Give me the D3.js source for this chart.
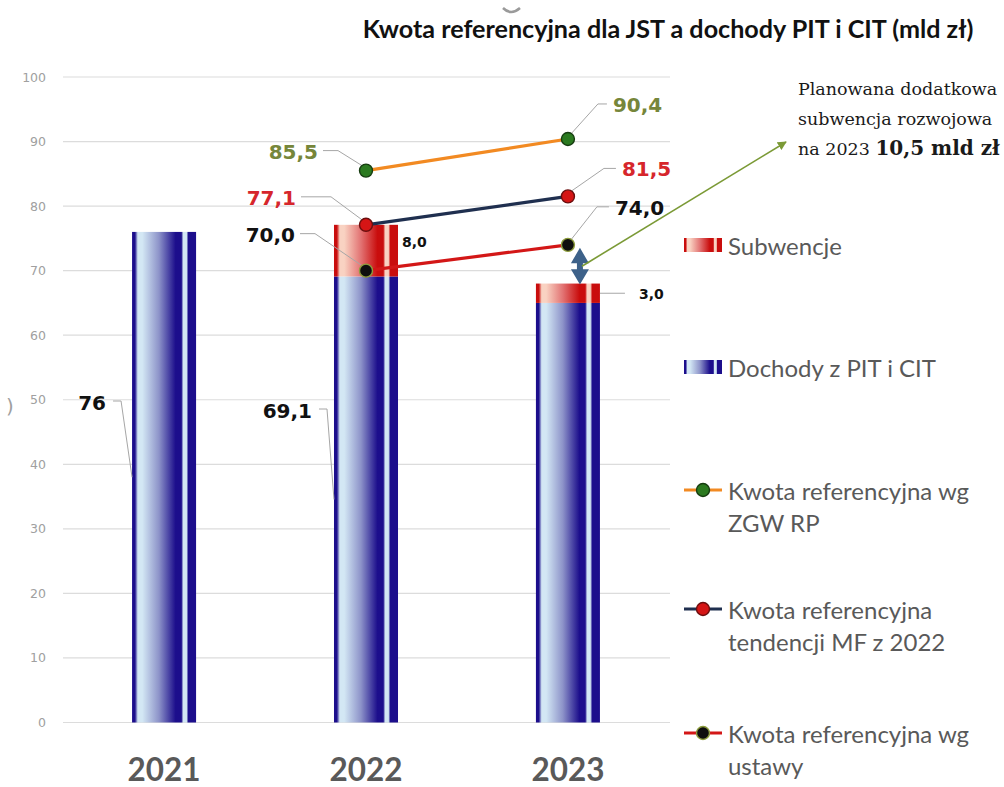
<!DOCTYPE html>
<html>
<head>
<meta charset="utf-8">
<script src="https://cdn.jsdelivr.net/npm/d3@7"></script>
<style>
  body { margin: 0; background: #fff; }
  svg { display: block; }
</style>
</head>
<body>
<svg id="chart" width="1004" height="787"></svg>
<script>
// Data (mld zł)
const years = ['2021', '2022', '2023'];
const dochody = [76, 69.1, 65.0];
const subwencje = [0, 8.0, 3.0];
const kwotaZgw = [null, 85.5, 90.4];
const kwotaMf = [null, 77.1, 81.5];
const kwotaUstawa = [null, 70.0, 74.0];
const yTicks = [0, 10, 20, 30, 40, 50, 60, 70, 80, 90, 100];
const dochodyLabels = ['76', '69,1', null];
const subwencjeLabels = [null, '8,0', '3,0'];

const title = 'Kwota referencyjna dla JST a dochody PIT i CIT (mld zł)';
const legendBars = ['Subwencje', 'Dochody z PIT i CIT'];
const legendLines = [
  ['Kwota referencyjna wg', 'ZGW RP'],
  ['Kwota referencyjna', 'tendencji MF z 2022'],
  ['Kwota referencyjna wg', 'ustawy']
];
const note = ['Planowana dodatkowa', 'subwencja rozwojowa', 'na 2023 '];
const noteBold = '10,5 mld zł';

const fmt = v => d3.format('.1f')(v).replace('.', ',');

const svg = d3.select('#chart');
const defs = svg.append('defs');

const x = d3.scaleBand().domain(years).range([63, 669]).paddingInner(0.683).paddingOuter(0.342);
const y = d3.scaleLinear().domain([0, 100]).range([722.5, 77]);
const cx = yr => x(yr) + x.bandwidth() / 2;

// gradients that mimic the glossy excel bars
function barGradient(id, dark, light, mid) {
  const g = defs.append('linearGradient').attr('id', id).attr('x1', 0).attr('x2', 1).attr('y1', 0).attr('y2', 0);
  [[0, dark], [0.045, dark], [0.09, light], [0.16, light], [0.42, mid], [0.68, dark], [0.77, dark],
   [0.8, light], [0.85, light], [0.88, dark], [1, dark]]
    .forEach(([o, c]) => g.append('stop').attr('offset', o).attr('stop-color', c));
}
barGradient('gBlue', '#1c0e8c', '#d3e7f4', '#8d93c9');
barGradient('gRed', '#c90d0d', '#f9d2c2', '#e27373');

// grid + y ticks
svg.append('g').selectAll('line').data(yTicks).join('line')
  .attr('x1', 63).attr('x2', 670)
  .attr('y1', d => y(d)).attr('y2', d => y(d))
  .attr('stroke', '#dcdcdc').attr('stroke-width', 1.2);

svg.append('g').selectAll('text').data(yTicks).join('text')
  .attr('x', 46).attr('y', d => y(d))
  .attr('text-anchor', 'end').attr('dominant-baseline', 'central')
  .attr('font-family', 'DejaVu Sans').attr('font-size', 12.5).attr('fill', '#a0a0a0')
  .text(d => d);

// year labels
const yearText = svg.append('g').selectAll('text').data(years).join('text')
  .attr('x', d => cx(d)).attr('y', 769)
  .attr('text-anchor', 'middle').attr('dominant-baseline', 'central')
  .attr('font-family', 'Lato').attr('font-weight', 'bold').attr('font-size', 32)
  .attr('fill', '#595959')
  .text(d => d);

// bars
const bars = svg.append('g');
bars.selectAll('rect.doch').data(years).join('rect').attr('class', 'doch')
  .attr('x', d => x(d)).attr('width', x.bandwidth())
  .attr('y', (d, i) => y(dochody[i])).attr('height', (d, i) => y(0) - y(dochody[i]))
  .attr('fill', 'url(#gBlue)');
bars.selectAll('rect.sub').data(years).join('rect').attr('class', 'sub')
  .attr('x', d => x(d)).attr('width', x.bandwidth())
  .attr('y', (d, i) => y(dochody[i] + subwencje[i]))
  .attr('height', (d, i) => y(dochody[i]) - y(dochody[i] + subwencje[i]))
  .attr('fill', 'url(#gRed)');

const leader = svg.append('g').attr('fill', 'none').attr('stroke', '#a6a6a6').attr('stroke-width', 1);
const labelFont = sel => sel.attr('font-family', 'DejaVu Sans').attr('font-weight', 'bold');

// bar value labels (dochody): placed left of bar with an elbow leader to the bar middle
const dochOffsets = [{ dx: -26, dy: 403 }, { dx: -22, dy: 411 }];
dochodyLabels.forEach((lab, i) => {
  if (!lab) return;
  const o = dochOffsets[i];
  const bx = x(years[i]);
  const lx = bx + o.dx;
  labelFont(svg.append('text')).attr('x', lx).attr('y', o.dy)
    .attr('text-anchor', 'end').attr('dominant-baseline', 'central')
    .attr('font-size', 20).attr('fill', '#111').text(lab);
  leader.append('path').attr('d', d3.line()([[lx + 7, o.dy - 2], [lx + 15, o.dy - 2], [bx, y(dochody[i] / 2)]]));
});

// subwencje labels, right of the bar
subwencjeLabels.forEach((lab, i) => {
  if (!lab) return;
  const bx = x(years[i]) + x.bandwidth();
  const ly = y(dochody[i] + subwencje[i] / 2);
  const t = labelFont(svg.append('text'))
    .attr('y', i === 1 ? ly - 9 : ly + 1)
    .attr('dominant-baseline', 'central').attr('font-size', 14).attr('fill', '#111').text(lab);
  if (i === 1) t.attr('x', bx + 4);
  else {
    t.attr('x', bx + 39);
    leader.append('path').attr('d', d3.line()([[bx, ly], [bx + 25, ly]]));
  }
});

// line series
const series = [
  { vals: kwotaZgw, line: '#f28a22', fill: '#2b7a20', edge: '#163c10', label: '#76863a',
    offs: [null, { dx: -48, dy: -19, h: 15 }, { dx: 45, dy: -34, h: 9 }] },
  { vals: kwotaMf, line: '#1f2f4f', fill: '#d51515', edge: '#6b0e0e', label: '#d6262c',
    offs: [null, { dx: -70, dy: -27, h: 30 }, { dx: 54, dy: -27, h: 12 }] },
  { vals: kwotaUstawa, line: '#d31717', fill: '#0e0e0e', edge: '#8c9c3c', label: '#111',
    offs: [null, { dx: -71, dy: -36, h: 15 }, { dx: 47, dy: -37, h: 12 }] }
];

const lineGen = d3.line().defined(d => d[1] != null).x(d => cx(d[0])).y(d => y(d[1]));

// double arrow between 2023 kwota (ustawa) and the 2023 bar top
const arrX = cx(years[2]) + 12;
const aTop = y(kwotaUstawa[2]) + 3;
const aBot = y(dochody[2] + subwencje[2]) + 1;
const aMid = (aTop + aBot) / 2;

series.forEach(s => {
  svg.append('path').datum(years.map((yr, i) => [yr, s.vals[i]]))
    .attr('d', lineGen).attr('fill', 'none')
    .attr('stroke', s.line).attr('stroke-width', 3.2);
});

svg.append('path')
  .attr('d', `M${arrX},${aTop} L${arrX + 9},${aMid - 3} L${arrX + 3},${aMid - 3} L${arrX + 3},${aMid + 3}
    L${arrX + 9},${aMid + 3} L${arrX},${aBot} L${arrX - 9},${aMid + 3} L${arrX - 3},${aMid + 3}
    L${arrX - 3},${aMid - 3} L${arrX - 9},${aMid - 3} Z`)
  .attr('fill', '#3d6189');

series.forEach(s => {
  years.forEach((yr, i) => {
    const v = s.vals[i];
    if (v == null) return;
    const px = cx(yr), py = y(v);
    const o = s.offs[i];
    const lx = px + o.dx, ly = py + o.dy;
    const left = o.dx < 0;
    const sx = left ? lx + 5 : lx - 6;
    leader.append('path').attr('d', d3.line()([
      [sx, ly - 1], [left ? sx + o.h : sx - o.h, ly - 1], [left ? px - 4 : px + 3, py - 5]
    ]));
    labelFont(svg.append('text')).attr('x', lx).attr('y', ly)
      .attr('text-anchor', left ? 'end' : 'start').attr('dominant-baseline', 'central')
      .attr('font-size', 20).attr('fill', s.label).text(fmt(v));
  });
});

// markers on top of lines and leaders
series.forEach(s => {
  svg.append('g').selectAll('circle').data(years.filter((yr, i) => s.vals[i] != null)).join('circle')
    .attr('cx', d => cx(d)).attr('cy', d => y(s.vals[years.indexOf(d)])).attr('r', 6.5)
    .attr('fill', s.fill).attr('stroke', s.edge).attr('stroke-width', 1.4);
});

// green pointer to the note
defs.append('marker').attr('id', 'head').attr('viewBox', '0 0 10 10')
  .attr('refX', 9).attr('refY', 5).attr('markerWidth', 9).attr('markerHeight', 9)
  .attr('orient', 'auto').attr('markerUnits', 'userSpaceOnUse')
  .append('path').attr('d', 'M0,0 L10,5 L0,10 Z').attr('fill', '#7b9a36');
svg.append('line').attr('x1', arrX + 2).attr('y1', aMid)
  .attr('x2', 786).attr('y2', 142)
  .attr('stroke', '#7b9a36').attr('stroke-width', 1.6).attr('marker-end', 'url(#head)');

// note text (cut by the right edge, like the screenshot)
const noteG = svg.append('g').attr('font-family', 'DejaVu Serif').attr('fill', '#1a1a1a');
note.forEach((t, i) => {
  const tx = noteG.append('text').attr('x', 798).attr('y', 95 + i * 30).attr('font-size', 17.5).text(t);
  if (i === 2) tx.append('tspan').attr('font-weight', 'bold').attr('font-size', 20).text(noteBold);
});

// legend
const lg = svg.append('g').attr('font-family', 'Lato').attr('fill', '#595959');
const barFills = ['url(#gRed)', 'url(#gBlue)'];
const barRows = [245, 367];
legendBars.forEach((t, i) => {
  lg.append('rect').attr('x', 684).attr('y', barRows[i] - 7).attr('width', 38).attr('height', 14)
    .attr('fill', barFills[i]);
  lg.append('text').attr('class', 'lgt').attr('x', 728).attr('y', barRows[i])
    .attr('dominant-baseline', 'central').attr('font-size', 24).text(t);
});
const lineRows = [490, 609, 733];
legendLines.forEach((lines, i) => {
  const s = series[i];
  lg.append('line').attr('x1', 684).attr('x2', 722).attr('y1', lineRows[i]).attr('y2', lineRows[i])
    .attr('stroke', s.line).attr('stroke-width', 3.2);
  lg.append('circle').attr('cx', 703).attr('cy', lineRows[i]).attr('r', 6.5)
    .attr('fill', s.fill).attr('stroke', s.edge).attr('stroke-width', 1.4);
  lines.forEach((t, j) => {
    lg.append('text').attr('class', 'lgt').attr('x', 728).attr('y', lineRows[i] + j * 32)
      .attr('dominant-baseline', 'central').attr('font-size', 24).text(t);
  });
});

// title
const titleText = svg.append('text').attr('x', 668).attr('y', 28)
  .attr('text-anchor', 'middle').attr('dominant-baseline', 'central')
  .attr('font-family', 'Lato').attr('font-weight', 'bold').attr('font-size', 18)
  .attr('fill', '#111').text(title);

// stray bits of the cropped screenshot
svg.append('path').attr('d', 'M503,8 Q511,16 520,8').attr('fill', 'none')
  .attr('stroke', '#9a9a9a').attr('stroke-width', 2.5);
svg.append('text').attr('x', 6).attr('y', 406).attr('dominant-baseline', 'central')
  .attr('font-family', 'DejaVu Sans').attr('font-size', 20).attr('fill', '#a0a0a0').text(')');

// scale fonts so text spans roughly what the original does
function fitTo(sel, width) {
  const w = sel.node().getComputedTextLength();
  const fs = parseFloat(sel.attr('font-size'));
  return fs * width / w;
}
titleText.attr('font-size', fitTo(titleText, 611));
const lgSize = fitTo(lg.selectAll('text.lgt').filter((d, i) => i === 1), 208);
lg.selectAll('text.lgt').attr('font-size', lgSize);
const ySize = fitTo(d3.select(yearText.nodes()[0]), 73);
yearText.attr('font-size', ySize);
</script>
</body>
</html>
